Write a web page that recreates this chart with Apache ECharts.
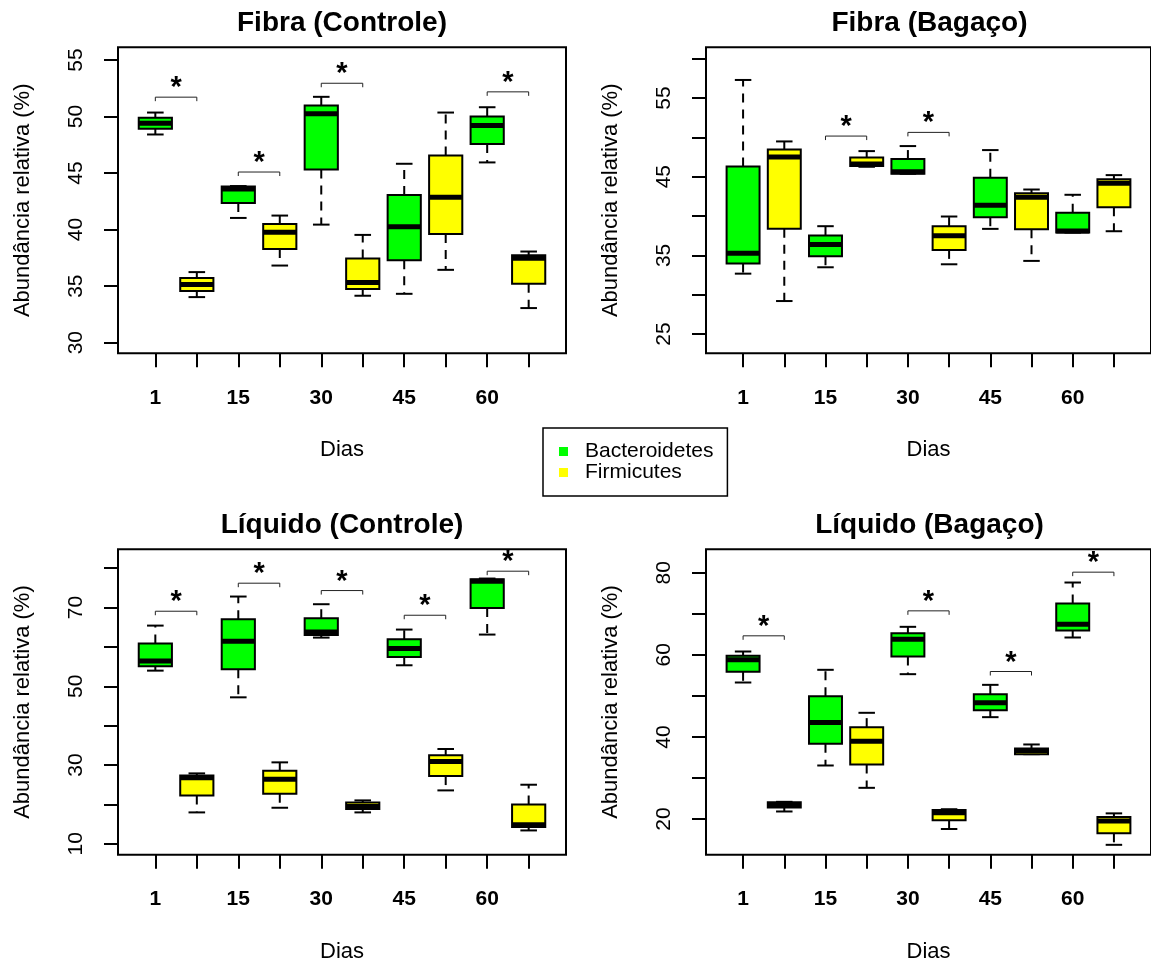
<!DOCTYPE html>
<html><head><meta charset="utf-8">
<script src="https://cdn.jsdelivr.net/npm/echarts@6/dist/echarts.min.js"></script>
<style>html,body{margin:0;padding:0;background:#fff}#c{width:1151px;height:967px}</style>
</head><body><div id="c"></div>
<script>
// ---------------- data ----------------
const days = ['1', '15', '30', '45', '60'];
const groups = ['Bacteroidetes', 'Firmicutes'];
const panelTitles = ['Fibra (Controle)', 'Fibra (Bagaço)', 'Líquido (Controle)', 'Líquido (Bagaço)'];
const xTitle = 'Dias';
const yTitle = 'Abundância relativa (%)';

// each box: [min, q1, median, q3, max]
const fibraControleBact = [[48.41,48.91,49.41,49.88,50.35],[41.03,42.35,43.59,43.82,43.85],[40.44,45.32,50.24,50.97,51.74],[34.32,37.29,40.24,43.06,45.82],[45.94,47.56,49.21,50.00,50.82]];
const fibraControleFirm = [[34.03,34.56,35.15,35.71,36.24],[36.82,38.29,39.76,40.50,41.24],[34.15,34.74,35.32,37.44,39.53],[36.44,39.62,42.85,46.56,50.35],[33.06,35.21,37.47,37.74,38.06]];
const fibraBagacoBact = [[32.68,33.96,35.27,46.30,57.29],[33.49,34.89,36.37,37.52,38.71],[45.37,45.37,45.62,47.24,48.89],[38.37,39.85,41.38,44.86,48.38],[37.90,37.90,38.11,40.41,42.70]];
const fibraBagacoFirm = [[29.20,38.37,47.49,48.47,49.48],[46.26,46.35,46.60,47.45,48.25],[33.87,35.70,37.48,38.71,39.94],[34.30,38.33,42.40,42.91,43.37],[38.07,41.13,44.18,44.69,45.20]];
const liquidoControleBact = [[53.98,55.08,56.44,60.85,65.42],[47.20,54.32,61.44,67.03,72.80],[62.37,63.05,63.81,67.29,70.85],[55.34,57.46,59.58,61.95,64.41],[63.14,69.92,76.69,77.20,77.37]];
const liquidoControleFirm = [[17.97,22.29,26.78,27.37,27.88],[19.15,22.71,26.36,28.56,30.68],[17.97,18.81,19.49,20.51,21.02],[23.56,27.20,30.93,32.46,34.07],[13.39,14.24,14.83,20.00,25.00]];
const liquidoBagacoBact = [[53.26,55.86,58.78,59.76,60.81],[33.05,38.33,43.52,49.94,56.35],[55.29,59.59,63.81,65.28,66.82],[44.82,46.53,48.31,50.42,52.69],[64.22,65.93,67.47,72.50,77.61]];
const liquidoBagacoFirm = [[21.85,22.82,23.31,24.10,24.20],[27.61,33.30,38.98,42.39,45.88],[17.58,19.69,21.55,22.20,22.40],[35.81,35.81,36.70,37.19,38.17],[13.73,16.53,19.53,20.50,21.39]];

// significance brackets: [box from, box to, height]
const fibraControleSig = [[1,2,51.71],[3,4,45.09],[5,6,52.94],[9,10,52.18]];
const fibraBagacoSig = [[3,4,50.16],[5,6,50.63]];
const liquidoControleSig = [[1,2,69.07],[3,4,76.19],[5,6,74.32],[7,8,68.05],[9,10,79.24]];
const liquidoBagacoSig = [[1,2,64.63],[5,6,70.71],[7,8,55.94],[9,10,80.13]];

// y axis ticks / labels
const yTicks1 = [30,35,40,45,50,55], yLabels1 = [30,35,40,45,50,55];
const yTicks2 = [25,30,35,40,45,50,55,60], yLabels2 = [25,35,45,55];
const yTicks3 = [10,20,30,40,50,60,70,80], yLabels3 = [10,30,50,70];
const yTicks4 = [20,30,40,50,60,70,80], yLabels4 = [20,40,60,80];

// ---------------- layout / style ----------------
const FONT = '"Liberation Sans", Arial, Helvetica, sans-serif';
const colors = ['#00FF00', '#FFFF00'];
const panels = [
  {left:118, top:47.3, width:448, height:306, ymin:29.06, ymax:56.12, bact:fibraControleBact, firm:fibraControleFirm, sig:fibraControleSig, ticks:yTicks1, labels:yLabels1},
  {left:706, top:47.3, width:447, height:306, ymin:22.56, ymax:61.44, bact:fibraBagacoBact, firm:fibraBagacoFirm, sig:fibraBagacoSig, ticks:yTicks2, labels:yLabels2},
  {left:118, top:549.3, width:448, height:305.5, ymin:7.2, ymax:84.8, bact:liquidoControleBact, firm:liquidoControleFirm, sig:liquidoControleSig, ticks:yTicks3, labels:yLabels3},
  {left:706, top:549.3, width:447, height:305.5, ymin:11.3, ymax:85.7, bact:liquidoBagacoBact, firm:liquidoBagacoFirm, sig:liquidoBagacoSig, ticks:yTicks4, labels:yLabels4}
];
const boxPositions = [1,2,3,4,5,6,7,8,9,10];
const labelPositions = [1,3,5,7,9];

function renderBox(params, api) {
  const x = api.value(0);
  const pMin = api.coord([x, api.value(1)]);
  const pQ1 = api.coord([x, api.value(2)]);
  const pMd = api.coord([x, api.value(3)]);
  const pQ3 = api.coord([x, api.value(4)]);
  const pMax = api.coord([x, api.value(5)]);
  const hw = api.size([0.8, 0])[0] / 2;
  const cw = api.size([0.4, 0])[0] / 2;
  const cx = pMd[0];
  const fill = api.visual('color');
  const dash = {stroke:'#000', lineWidth:2, lineDash:[9,7]};
  const solid = {stroke:'#000', lineWidth:2};
  return {type:'group', children:[
    {type:'line', shape:{x1:cx, y1:pQ3[1], x2:cx, y2:pMax[1]}, style:dash},
    {type:'line', shape:{x1:cx, y1:pQ1[1], x2:cx, y2:pMin[1]}, style:dash},
    {type:'line', shape:{x1:cx-cw, y1:pMax[1], x2:cx+cw, y2:pMax[1]}, style:solid},
    {type:'line', shape:{x1:cx-cw, y1:pMin[1], x2:cx+cw, y2:pMin[1]}, style:solid},
    {type:'rect', shape:{x:cx-hw, y:pQ3[1], width:2*hw, height:pQ1[1]-pQ3[1]}, style:{fill:fill, stroke:'#000', lineWidth:2}},
    {type:'line', shape:{x1:cx-hw, y1:pMd[1], x2:cx+hw, y2:pMd[1]}, style:{stroke:'#000', lineWidth:5}}
  ]};
}

function renderSig(params, api) {
  const a = api.coord([api.value(0), api.value(2)]);
  const b = api.coord([api.value(1), api.value(2)]);
  const y = a[1];
  return {type:'group', children:[
    {type:'polyline', shape:{points:[[a[0], y+4],[a[0], y],[b[0], y],[b[0], y+4]]}, style:{stroke:'#222', lineWidth:1, fill:null}},
    {type:'text', style:{text:'*', x:(a[0]+b[0])/2, y:y-9, fill:'#000', font:'bold 29px ' + FONT, align:'center', verticalAlign:'middle'}}
  ]};
}

const grid = [], xAxis = [], yAxis = [], series = [], graphic = [];
panels.forEach((p, i) => {
  grid.push({left:p.left, top:p.top, width:p.width, height:p.height, show:true, borderColor:'#000', borderWidth:2, backgroundColor:'transparent', containLabel:false});
  xAxis.push({gridIndex:i, type:'value', min:0.1, max:10.9,
    axisLine:{show:false}, splitLine:{show:false},
    axisTick:{show:true, customValues:boxPositions, length:14, lineStyle:{color:'#000', width:2}},
    axisLabel:{customValues:labelPositions, formatter:v => days[Math.round((v-1)/2)], fontFamily:FONT, fontWeight:'bold', fontSize:21, color:'#000', margin:34},
    name:xTitle, nameLocation:'middle', nameGap:86, nameTextStyle:{fontFamily:FONT, fontSize:22, color:'#000'}
  });
  yAxis.push({gridIndex:i, type:'value', min:p.ymin, max:p.ymax,
    axisLine:{show:false}, splitLine:{show:false},
    axisTick:{show:true, customValues:p.ticks, length:14, lineStyle:{color:'#000', width:2}},
    axisLabel:{customValues:p.labels, rotate:90, fontFamily:FONT, fontSize:21, color:'#000', margin:31},
    name:yTitle, nameLocation:'middle', nameGap:84, nameRotate:90, nameTextStyle:{fontFamily:FONT, fontSize:22, color:'#000'}
  });
  [p.bact, p.firm].forEach((arr, g) => {
    series.push({type:'custom', name:groups[g], xAxisIndex:i, yAxisIndex:i, itemStyle:{color:colors[g]},
      encode:{x:0, y:[1,2,3,4,5]}, clip:false, renderItem:renderBox,
      data:arr.map((b, k) => [2*k + 1 + g, b[0], b[1], b[2], b[3], b[4]])});
  });
  series.push({type:'custom', name:'sig'+i, xAxisIndex:i, yAxisIndex:i, encode:{x:[0,1], y:2}, clip:false,
    renderItem:renderSig, data:p.sig, silent:true});
  graphic.push({type:'text', x:p.left + p.width/2, y:p.top - 24,
    style:{text:panelTitles[i], font:'bold 28px ' + FONT, fill:'#000', align:'center', verticalAlign:'middle'}});
});

const chart = echarts.init(document.getElementById('c'), null, {renderer:'canvas'});
chart.setOption({
  animation:false,
  backgroundColor:'#fff',
  textStyle:{fontFamily:FONT},
  grid, xAxis, yAxis, series, graphic,
  legend:{data:groups, orient:'vertical', left:543, top:428, icon:'rect', itemWidth:9, itemHeight:9, itemGap:0,
    padding:[13,14,13,16], borderColor:'#000', borderWidth:1.5, selectedMode:false,
    textStyle:{fontFamily:FONT, fontSize:21, color:'#000', lineHeight:19, padding:[0,0,0,12]}}
});
</script></body></html>
